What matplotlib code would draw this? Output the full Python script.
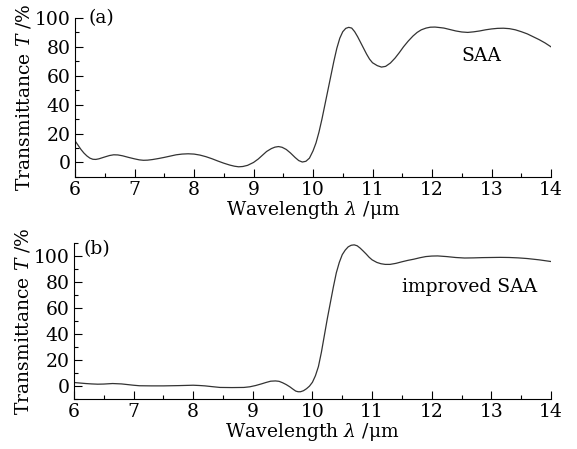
import numpy as np
import matplotlib
matplotlib.use('Agg')
import matplotlib.pyplot as plt
from matplotlib.ticker import MultipleLocator

plt.rcParams['font.family'] = 'DejaVu Serif'
plt.rcParams['mathtext.fontset'] = 'dejavuserif'

#%% data
wl_a = [6.0, 6.05, 6.1, 6.15, 6.2, 6.25, 6.3, 6.35, 6.4, 6.5, 6.58, 6.65, 6.72,
        6.8, 6.9, 7.0, 7.08, 7.15, 7.22, 7.3, 7.4, 7.5, 7.6, 7.7, 7.8, 7.9,
        8.0, 8.1, 8.2, 8.3, 8.4, 8.5, 8.6, 8.68, 8.75, 8.82, 8.9, 9.0, 9.08,
        9.15, 9.22, 9.3, 9.36, 9.42, 9.48, 9.55, 9.62, 9.7, 9.76, 9.82, 9.88,
        9.94, 10.0, 10.05, 10.1, 10.15, 10.2, 10.25, 10.3, 10.35, 10.4, 10.45,
        10.5, 10.55, 10.6, 10.65, 10.7, 10.75, 10.8, 10.85, 10.9, 10.95, 11.0,
        11.08, 11.15, 11.22, 11.3, 11.38, 11.45, 11.52, 11.6, 11.68, 11.75,
        11.82, 11.9, 11.97, 12.05, 12.12, 12.2, 12.3, 12.4, 12.5, 12.6, 12.7,
        12.8, 12.9, 13.0, 13.1, 13.2, 13.3, 13.4, 13.5, 13.6, 13.7, 13.8,
        13.9, 14.0]
t_a = [15, 12, 9, 6.5, 4.5, 3.0, 2.2, 2.1, 2.5, 3.8, 4.8, 5.3, 5.2,
       4.6, 3.5, 2.5, 1.8, 1.5, 1.6, 2.0, 2.7, 3.5, 4.4, 5.3, 5.8, 6.0,
       5.8, 5.1, 4.0, 2.6, 1.0, -0.5, -1.8, -2.6, -3.0, -2.8, -2.0, 0.0, 2.4,
       5.0, 7.6, 9.6, 10.6, 11.0, 10.5, 9.0, 6.6, 3.4, 1.3, 0.3, 0.8,
       3.0, 8.0, 13.5, 21, 30, 40, 50, 60, 70, 79, 86,
       90.5, 92.8, 93.5, 93.0, 90.5, 87.0, 83.0, 79.0, 75.0, 71.5, 69.0,
       67.0, 66.0, 66.5, 68.8, 72.3, 76.0, 80.0, 84.0, 87.5, 90.0,
       91.8, 93.0, 93.6, 93.7, 93.4, 93.0, 92.0, 91.0, 90.3, 90.0, 90.4,
       91.0, 91.8, 92.4, 92.8, 92.9, 92.6, 91.8, 90.5, 89.0, 87.0, 85.0,
       82.7, 80.0]

wl_b = [6.0, 6.1, 6.2, 6.3, 6.4, 6.5, 6.65, 6.8, 6.9, 7.0, 7.1, 7.3, 7.5,
        7.75, 8.0, 8.1, 8.2, 8.3, 8.45, 8.65, 8.85, 8.95, 9.05, 9.15, 9.22,
        9.3, 9.38, 9.44, 9.5, 9.56, 9.62, 9.67, 9.72, 9.76, 9.8, 9.85, 9.9,
        9.95, 10.0, 10.05, 10.1, 10.15, 10.2, 10.25, 10.3, 10.35, 10.4, 10.45,
        10.5, 10.55, 10.6, 10.65, 10.7, 10.75, 10.8, 10.85, 10.9, 10.95, 11.0,
        11.08, 11.15, 11.22, 11.3, 11.4, 11.5, 11.6, 11.7, 11.8, 11.9, 12.0,
        12.1, 12.25, 12.4, 12.55, 12.7, 12.85, 13.0, 13.15, 13.3, 13.45, 13.6,
        13.8, 14.0]
t_b = [2.8, 2.4, 2.0, 1.7, 1.5, 1.6, 2.0, 1.7, 1.2, 0.7, 0.3, 0.2, 0.2,
       0.4, 0.7, 0.5, 0.2, -0.3, -1.0, -1.1, -1.0, -0.5, 0.5, 1.8, 2.8,
       3.8, 4.0, 3.7, 2.6, 1.2, -0.5, -2.2, -3.8, -4.3, -4.3, -3.5, -2.0,
       0.0, 3.0, 8.0, 15.0, 26, 39, 52, 64, 76, 87, 95,
       101, 104.5, 107, 108.2, 108.5, 107.8, 106, 103.8, 101.5, 99.0, 97.0,
       95.0, 94.0, 93.5, 93.5, 94.3, 95.5, 96.6, 97.5, 98.6, 99.5, 99.9,
       100, 99.5, 98.8, 98.4, 98.5, 98.7, 98.8, 98.9, 98.8, 98.5, 98.0,
       97.0, 95.7]

fig = plt.figure(figsize=(5.77, 4.49), dpi=100)
ax1 = fig.add_axes([0.130, 0.606, 0.825, 0.354])
ax2 = fig.add_axes([0.128, 0.111, 0.827, 0.348])

fs = 13.5

def style(ax, ylim, yticks):
    ax.spines['top'].set_visible(False)
    ax.spines['right'].set_visible(False)
    ax.set_xlim(6, 14)
    ax.set_ylim(*ylim)
    ax.set_yticks(yticks)
    ax.xaxis.set_major_locator(MultipleLocator(1))
    ax.xaxis.set_minor_locator(MultipleLocator(0.5))
    ax.yaxis.set_minor_locator(MultipleLocator(10))
    ax.tick_params(which='both', direction='in', labelsize=fs, width=0.8)
    ax.tick_params(which='major', length=5.5, pad=3)
    ax.tick_params(which='minor', length=3)
    ax.set_xlabel(r'Wavelength $\lambda$ /$\mathrm{\mu}$m', fontsize=fs, labelpad=0)
    ax.set_ylabel(r'Transmittance $T$ /%', fontsize=fs, labelpad=1)

ax1.plot(wl_a, t_a, color='#333333', lw=0.9)
style(ax1, (-10, 100), [0, 20, 40, 60, 80, 100])
ax1.text(6.22, 100, '(a)', fontsize=fs, va='center', ha='left')
ax1.text(12.82, 74, 'SAA', fontsize=fs, va='center', ha='center')

ax2.plot(wl_b, t_b, color='#333333', lw=0.9)
style(ax2, (-10, 110), [0, 20, 40, 60, 80, 100])
ax2.text(6.17, 105, '(b)', fontsize=fs, va='center', ha='left')
ax2.text(12.64, 76, 'improved SAA', fontsize=fs, va='center', ha='center')

fig.savefig('out.png', dpi=100)
